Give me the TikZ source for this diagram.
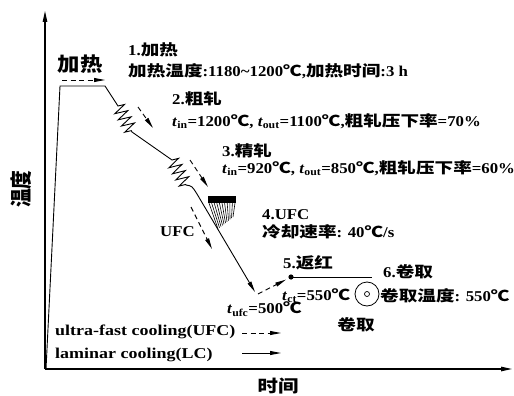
\documentclass[tikz,border=0pt]{standalone}
\usepackage{fontspec}
\setmainfont{Liberation Serif}[FakeStretch=1.12]
\newfontfamily\cjk{Noto Sans CJK SC}[FakeStretch=1.24]
\newfontfamily\cjkn{Noto Sans CJK SC}
\usetikzlibrary{arrows.meta,decorations.pathmorphing}
\newcommand\tsub[1]{\textit{t}\textsubscript{#1}}
\newcommand\dg{{\cjk ℃}}
\tikzset{
  lbl/.style={anchor=west, inner sep=0pt, font=\fontsize{15}{18}\selectfont\bfseries},
  curve/.style={line width=0.9pt, line join=miter},
  axisline/.style={line width=1.1pt, -{Triangle[length=11pt,width=4.5pt]}},
  tip/.style={-{Triangle[length=11pt,width=4pt]}},
  dashedarrow/.style={line width=0.9pt, dash pattern=on 5pt off 3.5pt, tip},
  spring/.style={decoration={zigzag, segment length=7pt, amplitude=6.5pt}},
}
\begin{document}
\begin{tikzpicture}[x=1pt,y=-1pt]
\useasboundingbox (0,0) rectangle (514,396);
% axes
\coordinate (o) at (45,369);
\coordinate (ytop) at (45,11);
\coordinate (xend) at (512,369);
\draw[axisline] (o) -- (ytop);
\draw[axisline] (o) -- (xend);
% process curve
\coordinate (p0) at (46,369);
\coordinate (p1) at (60,86);
\coordinate (p2) at (105,86);
\coordinate (z1a) at (118,106);
\coordinate (z1b) at (132,132);
\coordinate (z2a) at (172,160);
\coordinate (z2b) at (186,185);
\coordinate (bend) at (197,194);
\coordinate (tufc) at (255,292);
\draw[curve] (p0) -- (p1) -- (p2) -- (z1a) decorate[spring]{-- (z1b)} -- (z2a) decorate[spring]{-- (z2b)} .. controls (192,186) .. (bend);
\draw[curve, tip] (bend) -- (tufc);
% reheating and coiling
\coordinate (rh) at (258,294);
\coordinate (rhend) at (286,279.6);
\coordinate (dot) at (291,277);
\coordinate (coilend) at (372,277);
\draw[dashedarrow] (rh) -- (rhend);
\fill (dot) circle (2.6);
\draw[line width=0.9pt] (dot) -- (coilend);
\node[circle, draw, line width=0.8pt, minimum size=24pt, inner sep=0pt] (coil) at (367,294) {};
\node[circle, draw, line width=0.7pt, minimum size=5pt, inner sep=0pt] (coilc) at (coil.center) {};
% process dashed arrows
\coordinate (h1) at (62,80);   \coordinate (h2) at (105,80);
\coordinate (r1) at (138,107); \coordinate (r2) at (153,128);
\coordinate (f1) at (190,160); \coordinate (f2) at (208,187);
\coordinate (u1) at (191,207); \coordinate (u2) at (212,249);
\draw[dashedarrow] (h1) -- (h2);
\draw[dashedarrow] (r1) -- (r2);
\draw[dashedarrow] (f1) -- (f2);
\draw[dashedarrow] (u1) -- (u2);
% spray nozzle
\fill (208,196) rectangle (236,203);
\foreach \i in {0,...,10} {
  \draw[line width=0.6pt] ({209+2.6*\i},203) -- ({218+1.5*\i},{229-1.2*\i});
}
% legend arrows
\coordinate (l1a) at (242,333); \coordinate (l1b) at (281,333);
\coordinate (l2a) at (242,353); \coordinate (l2b) at (281,353);
\draw[dashedarrow] (l1a) -- (l1b);
\draw[line width=0.9pt, tip] (l2a) -- (l2b);
% texts
\node[lbl] (t1) at (128,50) {1.{\cjk 加热}};
\node[lbl] (t2) at (128,71) {{\cjk 加热温度}:1180\textasciitilde1200\dg,{\cjk 加热时间}:3 h};
\node[lbl] (t3) at (172,99) {2.{\cjk 粗轧}};
\node[lbl] (t4) at (172,121) {\tsub{in}=1200\dg, \tsub{out}=1100\dg,{\cjk 粗轧压下率}=70\%};
\node[lbl] (t5) at (222,151) {3.{\cjk 精轧}};
\node[lbl] (t6) at (222,168) {\tsub{in}=920\dg, \tsub{out}=850\dg,{\cjk 粗轧压下率}=60\%};
\node[lbl] (t7) at (262,215) {4.UFC};
\node[lbl] (t8) at (262,232) {{\cjk 冷却速率}: 40\dg/s};
\node[lbl] (t9) at (283,263) {5.{\cjk 返红}};
\node[lbl] (t10) at (282,296) {\tsub{ct}=550\dg};
\node[lbl] (t11) at (383,272) {6.{\cjk 卷取}};
\node[lbl] (t12) at (380,296) {{\cjk 卷取温度}: 550\dg};
\node[lbl] (t13) at (227,309) {\tsub{ufc}=500\dg};
\node[lbl, anchor=center] (t14) at (356,325) {{\cjk 卷取}};
\node[lbl] (t15) at (160,232) {UFC};
\node[lbl] (t16) at (55,332) {\scalebox{1.07}[1]{ultra-fast cooling(UFC)}};
\node[lbl] (t17) at (55,355) {\scalebox{1.07}[1]{laminar cooling(LC)}};
\node[inner sep=0pt, font=\fontsize{19.5}{22}\selectfont\bfseries] (heat) at (80,64) {\scalebox{1.15}[1]{\cjkn 加热}};
\node[inner sep=0pt, font=\fontsize{17}{20}\selectfont\bfseries] (time) at (278,386) {\scalebox{1.2}[1]{\cjkn 时间}};
\node[inner sep=0pt, rotate=90, font=\fontsize{22}{26}\selectfont\bfseries] (temp) at (21,189) {\scalebox{0.85}[1]{\cjkn 温度}};
\end{tikzpicture}
\end{document}
